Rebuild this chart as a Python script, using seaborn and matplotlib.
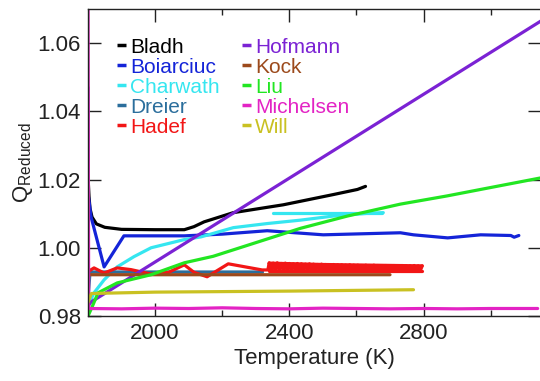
import numpy as np
import pandas as pd
import matplotlib
matplotlib.use("Agg")
import matplotlib.pyplot as plt
import seaborn as sns

# --- data (Temperature in K, Q reduced) ---
bladh_T = [1800, 1803, 1806, 1812, 1825, 1850, 1900, 2000, 2087, 2116, 2146, 2233, 2382, 2531, 2603, 2627]
bladh_Q = [1.021, 1.015, 1.0115, 1.0090, 1.0070, 1.0060, 1.0054, 1.0053, 1.0053, 1.0062, 1.0076, 1.0103, 1.0126, 1.0156, 1.0171, 1.0180]

boiarciuc_T = [1800, 1809, 1848, 1907, 2087, 2200, 2334, 2501, 2731, 2770, 2872, 2970, 3060, 3070, 3084]
boiarciuc_Q = [1.016, 1.0091, 0.9944, 1.0035, 1.0035, 1.0040, 1.0050, 1.0038, 1.0044, 1.0038, 1.0029, 1.0038, 1.0036, 1.0031, 1.0036]

charwath_T = [1800, 1818, 1848, 1887, 1937, 1988, 2087, 2137, 2233, 2334, 2433, 2531, 2633, 2680]
charwath_Q = [0.9830, 0.9868, 0.9906, 0.9944, 0.9974, 1.0000, 1.0024, 1.0032, 1.0059, 1.0071, 1.0081, 1.0093, 1.0101, 1.0103]
charwath2_T = [2352, 2675]
charwath2_Q = [1.0103, 1.0103]

dreier_T = [1800, 1806, 2320]
dreier_Q = [0.9850, 0.9929, 0.9929]

hadef_T = [1800, 1818, 1848, 1887, 1928, 1988, 2040, 2087, 2116, 2155, 2218, 2319, 2336,
           2340, 2346, 2352, 2358, 2364, 2370, 2376, 2382, 2388, 2394, 2400, 2406, 2412, 2418,
           2424, 2430, 2436, 2442, 2448, 2454, 2460, 2466, 2472, 2478, 2484, 2490, 2496, 2502,
           2508, 2514, 2520, 2526, 2532, 2538, 2544, 2550, 2556, 2562, 2568, 2574, 2580, 2586,
           2592, 2598, 2604, 2610, 2616, 2622, 2628, 2634, 2640, 2646, 2652, 2658, 2664, 2670,
           2676, 2682, 2688, 2694, 2700, 2706, 2712, 2718, 2724, 2730, 2736, 2742, 2748, 2754,
           2760, 2766, 2772, 2778, 2784, 2790, 2796]
hadef_Q = [0.9930, 0.9941, 0.9926, 0.9941, 0.9936, 0.9923, 0.9928, 0.9950, 0.9928, 0.9915, 0.9953, 0.9935, 0.9935,
           0.9956, 0.9932, 0.9955, 0.9931, 0.9956, 0.9933, 0.9954, 0.9932, 0.9955, 0.9931, 0.9954, 0.9933, 0.9953, 0.9932,
           0.9954, 0.9931, 0.9953, 0.9932, 0.9952, 0.9933, 0.9953, 0.9931, 0.9952, 0.9932, 0.9951, 0.9933, 0.9952, 0.9931,
           0.9951, 0.9932, 0.9950, 0.9931, 0.9951, 0.9933, 0.9950, 0.9932, 0.9950, 0.9931, 0.9949, 0.9932, 0.9950, 0.9933,
           0.9949, 0.9931, 0.9949, 0.9932, 0.9948, 0.9933, 0.9949, 0.9931, 0.9948, 0.9932, 0.9949, 0.9931, 0.9948, 0.9933,
           0.9947, 0.9932, 0.9948, 0.9931, 0.9947, 0.9932, 0.9948, 0.9933, 0.9947, 0.9931, 0.9948, 0.9932, 0.9947, 0.9931,
           0.9947, 0.9932, 0.9948, 0.9931, 0.9947, 0.9932, 0.9947]
# upper and lower edges of the dense Hadef scatter band
hadef_hi_T = [2340, 2500, 2796]
hadef_hi_Q = [0.9955, 0.9951, 0.9947]
hadef_lo_T = [2340, 2796]
hadef_lo_Q = [0.9932, 0.9932]

hofmann_T = [1800, 1801, 1809, 3150]
hofmann_Q = [1.047, 0.9830, 0.9841, 1.0665]

kock_T = [1800, 1801, 2700]
kock_Q = [0.9800, 0.9921, 0.9921]

liu_T = [1800, 1812, 1830, 1887, 1988, 2087, 2173, 2300, 2433, 2573, 2731, 2870, 2970, 3150]
liu_Q = [0.9800, 0.9826, 0.9868, 0.9897, 0.9921, 0.9956, 0.9975, 1.0015, 1.0057, 1.0093, 1.0128, 1.0152, 1.0171, 1.0205]

michelsen_T = [1800, 1802, 1900, 2000, 2100, 2200, 2300, 2400, 2500, 2600, 2700, 2800, 2900, 3000, 3140]
michelsen_Q = [1.080, 0.9822, 0.9821, 0.9823, 0.9822, 0.9824, 0.9822, 0.9821, 0.9823, 0.9822, 0.9821, 0.9822, 0.9821, 0.9822, 0.9822]

will_T = [1800, 1810, 2000, 2400, 2770]
will_Q = [0.9840, 0.9866, 0.9870, 0.9873, 0.9877]

sources = ["Bladh", "Boiarciuc", "Charwath", "Dreier", "Hadef",
           "Hofmann", "Kock", "Liu", "Michelsen", "Will"]
colors = ["#000000", "#1424d8", "#35e6f0", "#2b6e9c", "#f21616",
          "#7b22d4", "#9c4a1c", "#22e622", "#e323c4", "#c9c122"]

segments = [
    ("Bladh", 0, bladh_T, bladh_Q),
    ("Boiarciuc", 1, boiarciuc_T, boiarciuc_Q),
    ("Charwath", 2, charwath_T, charwath_Q),
    ("Charwath", 3, charwath2_T, charwath2_Q),
    ("Dreier", 4, dreier_T, dreier_Q),
    ("Kock", 5, kock_T, kock_Q),
    ("Hadef", 6, hadef_T, hadef_Q),
    ("Hadef", 11, hadef_hi_T, hadef_hi_Q),
    ("Hadef", 12, hadef_lo_T, hadef_lo_Q),
    ("Will", 7, will_T, will_Q),
    ("Michelsen", 8, michelsen_T, michelsen_Q),
    ("Liu", 9, liu_T, liu_Q),
    ("Hofmann", 10, hofmann_T, hofmann_Q),
]

rows = []
for name, seg, T, Q in segments:
    for t, q in zip(T, Q):
        rows.append({"source": name, "seg": seg, "T": t, "Q": q})
df = pd.DataFrame(rows)

sns.set_theme(style="ticks")
plt.rcParams["font.family"] = ["Liberation Sans", "DejaVu Sans"]

fig = plt.figure(figsize=(5.4, 3.81), dpi=100)
ax = fig.add_axes([88 / 540, 65 / 381, 453 / 540, 307 / 381])

sns.lineplot(data=df, x="T", y="Q", hue="source", hue_order=sources,
             palette=dict(zip(sources, colors)), units="seg", estimator=None,
             sort=False, linewidth=2.3, ax=ax, legend=True)

ax.set_xlim(1800, 3150)
ax.set_ylim(0.98, 1.07)
ax.set_xticks([2000, 2400, 2800])
ax.set_xticks([2200, 2600, 3000], minor=True)
ax.set_yticks([0.98, 1.00, 1.02, 1.04, 1.06])
ax.set_yticklabels(["0.98", "1.00", "1.02", "1.04", "1.06"])
ax.tick_params(which="both", direction="in", top=True, right=True, width=1.0,
               labelsize=16, colors="#222222", labelcolor="#222222")
ax.tick_params(which="major", length=9.5, pad=5)
ax.tick_params(which="minor", length=4.5)
ax.spines["right"].set_visible(False)
for s in ["left", "top", "bottom"]:
    ax.spines[s].set_linewidth(1.0)
    ax.spines[s].set_color("#222222")

ax.set_xlabel("Temperature (K)", fontsize=16, color="#222222", labelpad=3)
ax.set_ylabel(r"$\mathregular{Q_{Reduced}}$", fontsize=16, color="#222222", labelpad=2)

handles, labels = ax.get_legend_handles_labels()
leg = ax.legend(handles, labels, ncol=2, loc="upper left",
                bbox_to_anchor=(0.063, 0.907), frameon=False, fontsize=15,
                handlelength=0.45, handletextpad=0.2, labelspacing=0.05,
                columnspacing=1.05, borderpad=0, borderaxespad=0)
for line, text in zip(leg.get_lines(), leg.get_texts()):
    line.set_linewidth(2.5)
    line.set_solid_capstyle("butt")
    text.set_color(line.get_color())

fig.savefig("out.png", dpi=100)
